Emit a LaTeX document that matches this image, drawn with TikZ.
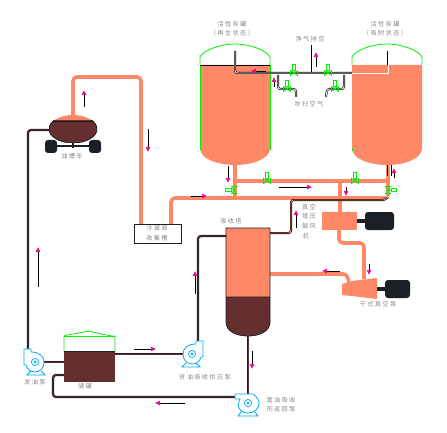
\documentclass[tikz,border=0pt]{standalone}
\usepackage{fontspec}
\newfontfamily\cjk[LetterSpace=22]{Noto Sans CJK SC}
\usetikzlibrary{arrows.meta}
\definecolor{salm}{HTML}{FF8866}
\definecolor{oil}{HTML}{662F2F}
\definecolor{blk}{HTML}{1A2026}
\definecolor{lab}{HTML}{8A8A8A}
\definecolor{vgreen}{HTML}{00F000}
\tikzset{
  spipe/.style={draw=salm,line width=3.6pt,rounded corners=4pt},
  opipe/.style={draw=blk,line width=.7pt,double=oil,double distance=.9pt,rounded corners=3pt},
  wpipe/.style={draw=black,line width=.6pt,double=white,double distance=.8pt,rounded corners=2.5pt},
  sbpipe/.style={draw=black,line width=.6pt,double=salm,double distance=.8pt,rounded corners=2.5pt},
  flow/.style={draw=black,line width=.7pt,-{Latex[magenta,length=5pt,width=5pt]}},
  lbl/.style={text=lab,font=\cjk\fontsize{6.2}{9}\selectfont,align=center,inner sep=0pt},
  pumpline/.style={draw=cyan,line width=.8pt,fill=white},
  valve/.pic={
    \draw[vgreen,line width=.7pt] (-3.5,-2.5)--(3.5,2.5)--(3.5,-2.5)--(-3.5,2.5)--cycle (0,0)--(0,-3);
    \draw[vgreen,line width=.8pt,fill=white] (-1.8,-3) rectangle (1.8,-8.5);
  },
  pumpa/.pic={
    \draw[pumpline] (-4,9)--(-8,13)--(10,13)--(6,9);
    \draw[pumpline] (-11,-13)--(-4,-13)--(-4,-10) .. controls (4,-10) and (9,-6) .. (9,0)
       .. controls (9,6) and (5,10) .. (0,10) .. controls (-5,10) and (-8,7) .. (-9,3) -- (-11,3) -- cycle;
    \draw[cyan,line width=.7pt] (0,0) circle (3.6) (0,0) circle (1.2);
  },
  pumpb/.pic={
    \draw[pumpline] (-6,8)--(-10,13)--(10,13)--(6,8);
    \draw[pumpline] (-13,-9)--(5,-9) .. controls (9,-6) and (11,-3) .. (11,0)
       .. controls (11,6) and (6,10) .. (0,10) .. controls (-6,10) and (-10,6) .. (-10,1) -- (-8,-4) -- (-13,-4) -- cycle;
    \draw[cyan,line width=.7pt] (0,0) circle (3.6) (0,0) circle (1.2);
  }
}
\newcommand{\tankbody}[1]{(#1,65) -- (#1+0,148) .. controls (#1,160) and (#1+20,165) .. (#1+35,165) .. controls (#1+50,165) and (#1+70,160) .. (#1+70,148) -- (#1+70,65) -- cycle}
\newcommand{\tankdome}[1]{(#1,65) -- (#1,57) .. controls (#1+4,50) and (#1+20,44) .. (#1+35,44) .. controls (#1+50,44) and (#1+66,50) .. (#1+70,57) -- (#1+70,65)}
\begin{document}
\begin{tikzpicture}[x=1pt,y=-1pt]
\useasboundingbox (0,0) rectangle (447,433);
% ---- named junctions
\coordinate (lt) at (235,165); \coordinate (rt) at (388,165);
\coordinate (cold) at (141,225); \coordinate (coldout) at (171,224);
\coordinate (truckTop) at (73,116); \coordinate (truckL) at (50,130);
\coordinate (blowB) at (339,230); \coordinate (blowT) at (340,212);
\coordinate (dryT) at (364,279); \coordinate (dryL) at (349,283);
\coordinate (towerR1) at (270,233); \coordinate (towerR2) at (270,274);
\coordinate (towerL) at (226,236); \coordinate (towerB) at (248,336);
\coordinate (pA) at (35,362); \coordinate (pB) at (192,354); \coordinate (pC) at (248,403);
% ---- salmon pipes
\draw[spipe] (truckTop) -- (73,77) -- (141,77) -- (cold);
\draw[spipe] (coldout) -- (171,198) -- (235,198);
\draw[spipe,rounded corners=0pt] (lt) -- (235,198);
\draw[spipe,rounded corners=0pt] (rt) -- (388,196);
\draw[spipe,rounded corners=0pt] (235,181) -- (388,181);
\draw[spipe,rounded corners=0pt] (232,198) -- (340,198) -- (386,198);
\draw[spipe,rounded corners=0pt] (340,181) -- (blowT);
\draw[spipe] (blowB) -- (339,243) -- (364,243) -- (dryT);
\draw[spipe] (towerR2) -- (347,274) -- (dryL);
% ---- tanks
\fill[salm] \tankbody{200};
\draw[vgreen,line width=.8pt] (200,65) -- (200,150) (270,65) -- (270,150);
\draw[vgreen,line width=.8pt] \tankdome{200};
\draw[black,line width=.8pt] (200,65) -- (270,65);
\fill[salm] \tankbody{352};
\draw[vgreen,line width=.8pt] \tankdome{352};
\draw[vgreen,line width=.6pt] (352,148) -- (352,151);
\draw[black,line width=.6pt] (387,165) -- (387,176) (391,165) -- (391,176);
% ---- gas pipes at top
\draw[wpipe] (235,51) -- (235,73) -- (352,73);
\draw[white,line width=.8pt] (352,73) -- (388,73) -- (388,65);
\draw[wpipe] (388,51) -- (388,65);
\draw[wpipe,rounded corners=0pt] (312,45) -- (312,72);
\draw[wpipe] (278,75) -- (278,89) -- (296,89) -- (296,97);
\draw[wpipe] (344,75) -- (344,89) -- (327,89) -- (326,97);
\pic at (294,73) {valve};
\pic at (328,73) {valve};
\pic at (287,89) {valve};
\pic at (335,89) {valve};
\pic at (267,181) {valve};
\pic at (355,181) {valve};
\pic[rotate=90] at (234,190) {valve};
\pic[rotate=-90] at (388,190) {valve};
% ---- truck
\fill[blk,rounded corners=3pt] (45,140) rectangle (57,153) (89,140) rectangle (101,153);
\draw[blk,line width=2pt] (50,146) -- (96,146);
\draw[blk,line width=1.2pt] (73,142) -- (73,148);
\begin{scope}
\clip (49,115) rectangle (97,121);
\fill[salm] (73,129) ellipse (24 and 14);
\end{scope}
\begin{scope}
\clip (49,121) rectangle (97,143);
\fill[oil] (73,129) ellipse (24 and 14);
\draw[blk,line width=.8pt] (73,129) ellipse (24 and 14);
\end{scope}
\draw[blk,line width=.8pt] (52,121) -- (94,121);
% ---- collector
\node[draw=blk,line width=.8pt,minimum width=47pt,minimum height=19pt,inner sep=0pt,lbl] (box) at (157.5,233.5) {};
% ---- blower + dry pump
\fill[salm] (322,212) rectangle (357,230);
\draw[blk,line width=3.5pt] (357,221) -- (366,221);
\fill[blk,rounded corners=3pt] (365,212) rectangle (394,230);
\fill[salm] (342,284) -- (352,281) -- (377,278) -- (377,299) -- (352,296) -- (342,295) -- cycle;
\draw[blk,line width=3.5pt] (377,289) -- (386,289);
\fill[blk,rounded corners=3pt] (385,280) rectangle (410,298);
% ---- sbpipe
\draw[sbpipe] (towerR1) -- (291,233) -- (291,200) -- (385,200) -- (388,197);
% ---- tower
\fill[salm] (226,228) rectangle (270,297);
\fill[oil] (226,297) -- (226,322) .. controls (226,331) and (236,336) .. (248,336) .. controls (260,336) and (270,331) .. (270,322) -- (270,297) -- cycle;
\draw[blk,line width=.8pt] (226,228) -- (226,322) .. controls (226,331) and (236,336) .. (248,336) .. controls (260,336) and (270,331) .. (270,322) -- (270,228) -- cycle (226,297) -- (270,297);
% ---- storage
\fill[oil] (64,351) rectangle (115,382);
\draw[blk,line width=.8pt] (64,351) -- (115,351);
\draw[vgreen,line width=.8pt] (64,351) -- (64,336) -- (67,335) -- (79,333) -- (89,331) -- (101,334) -- (112,336) -- (115,336) -- (115,351);
\draw[vgreen,line width=.8pt] (64,336) -- (115,336);
% ---- oil pipes
\draw[opipe] (truckL) -- (28,130) -- (28,350);
\draw[opipe] (44,362) -- (64,362);
\draw[opipe] (115,354) -- (183,354);
\draw[opipe] (198,341) -- (198,236) -- (towerL);
\draw[opipe] (64,375) -- (53,375) -- (53,397) -- (235,397);
\draw[opipe,rounded corners=0pt] (towerB) -- (248,394);
% ---- pumps
\pic at (pA) {pumpa};
\pic[xscale=-1] at (pB) {pumpa};
\pic at (pC) {pumpb};
% ---- flow marks
\draw[flow] (266,71) -- (251,71);
\draw[flow] (316,67) -- (316,52);
\draw[flow] (274,87) -- (274,77);
\draw[flow] (84,107) -- (84,90);
\draw[flow] (148,129) -- (148,152);
\draw[flow] (228,166) -- (228,183);
\draw[flow] (394,178) -- (394,168);
\draw[flow] (191,196) -- (207,196);
\draw[flow] (279,187) -- (312,187);
\draw[flow] (346,187) -- (346,196);
\draw[flow] (296,228) -- (296,210);
\draw[flow] (340,271) -- (322,271);
\draw[flow] (369,264) -- (369,275);
\draw[flow] (252,351) -- (252,369);
\draw[flow] (38,287) -- (38,247);
\draw[flow] (195,294) -- (195,271);
\draw[flow] (134,349) -- (156,349);
\draw[flow] (185,403) -- (155,403);
% ---- labels
\node[lbl] (t1) at (232,24) {活性炭罐};
\node[lbl] (t2) at (232,33) {（再生状态）};
\node[lbl] (t3) at (385,24) {活性炭罐};
\node[lbl] (t4) at (385,33) {（吸附状态）};
\node[lbl] (t5) at (310,39) {净气排空};
\node[lbl] (t6) at (309,104) {吹扫空气};
\node[lbl] (t7) at (72,156) {油槽车};
\node[lbl] (t8) at (157,228) {冷凝液};
\node[lbl] (t9) at (157,238) {收集槽};
\node[lbl] (t10) at (231,221) {吸收塔};
\node[lbl] (t11) at (309,207) {真空};
\node[lbl] (t12) at (309,216) {增压};
\node[lbl] (t13) at (309,226) {鼓风};
\node[lbl] (t14) at (306,236) {机};
\node[lbl] (t15) at (378,304) {干式真空泵};
\node[lbl] (t16) at (281,400) {富油吸收};
\node[lbl] (t17) at (281,409) {剂返回泵};
\node[lbl] (t18) at (205,377) {贫油吸收供应泵};
\node[lbl] (t19) at (35,382) {发油泵};
\node[lbl] (t20) at (85,386) {储罐};
\end{tikzpicture}
\end{document}
